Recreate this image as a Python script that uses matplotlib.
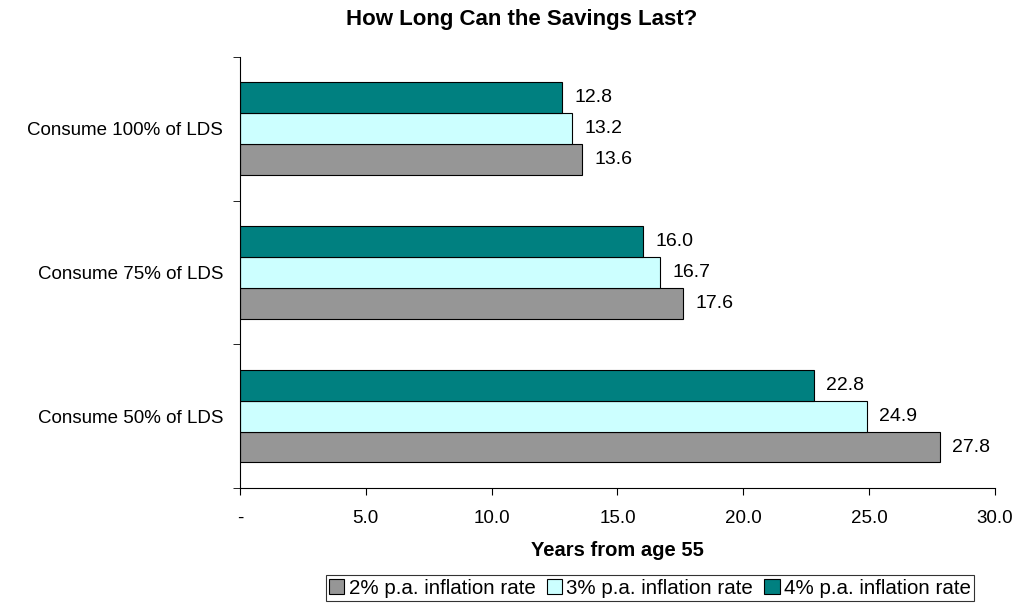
import matplotlib
matplotlib.use("Agg")
import matplotlib.pyplot as plt
import numpy as np

plt.rcParams['font.family'] = ['Liberation Sans', 'DejaVu Sans']

categories = ["Consume 50% of LDS", "Consume 75% of LDS", "Consume 100% of LDS"]
series_names = ["2% p.a. inflation rate", "3% p.a. inflation rate", "4% p.a. inflation rate"]
infl_2 = [27.8, 17.6, 13.6]
infl_3 = [24.9, 16.7, 13.2]
infl_4 = [22.8, 16.0, 12.8]
x_ticks = [0, 5, 10, 15, 20, 25, 30]
x_tick_labels = ["-", "5.0", "10.0", "15.0", "20.0", "25.0", "30.0"]

colors = ["#969696", "#CCFFFF", "#008080"]
series = [infl_2, infl_3, infl_4]

fig = plt.figure(figsize=(10.33, 6.10), dpi=100)
ax = fig.add_axes([0.2323, 0.2, 0.7309, 0.7066])

h = 0.215
y = np.arange(len(categories))
offsets = [-h, 0, h]
for vals, col, off, name in zip(series, colors, offsets, series_names):
    bars = ax.barh(y + off, vals, height=h, color=col, edgecolor="black",
                   linewidth=0.8, label=name)
    for b, v in zip(bars, vals):
        ax.annotate(f"{v:.1f}", (v, b.get_y() + b.get_height() / 2),
                    xytext=(9, 0), textcoords="offset points",
                    va="center", ha="left", fontsize=14)

ax.set_xlim(0, 30)
ax.set_ylim(-0.5, 2.5)
ax.set_xticks(x_ticks)
ax.set_xticklabels(x_tick_labels, fontsize=13.5)
ax.set_yticks(y)
ax.set_yticklabels(categories, fontsize=13.5)
ax.tick_params(axis="y", length=0, pad=12)
ax.set_yticks(np.arange(-0.5, 3.0, 1.0), minor=True)
ax.tick_params(axis="y", which="minor", length=5, direction="out")
ax.tick_params(axis="x", length=5, direction="out", pad=11)
for s in ["top", "right"]:
    ax.spines[s].set_visible(False)
ax.spines["left"].set_color("black")
ax.spines["bottom"].set_color("black")

fig.text(0.505, 1 - 19 / 610, "How Long Can the Savings Last?",
         fontsize=16, fontweight="bold", ha="center", va="center")
fig.text(0.5 * (240 + 995) / 1033, 1 - 551 / 610, "Years from age 55",
         fontsize=14.5, fontweight="bold", ha="center", va="center")

leg = fig.legend(loc="center", bbox_to_anchor=(0.629, 0.036), ncol=3, fontsize=14.8,
                 frameon=True, fancybox=False, edgecolor="black",
                 handlelength=0.75, handleheight=0.75, handletextpad=0.2,
                 columnspacing=0.55, borderpad=0.15)
leg.get_frame().set_linewidth(0.8)

fig.savefig("out.png", dpi=100)
